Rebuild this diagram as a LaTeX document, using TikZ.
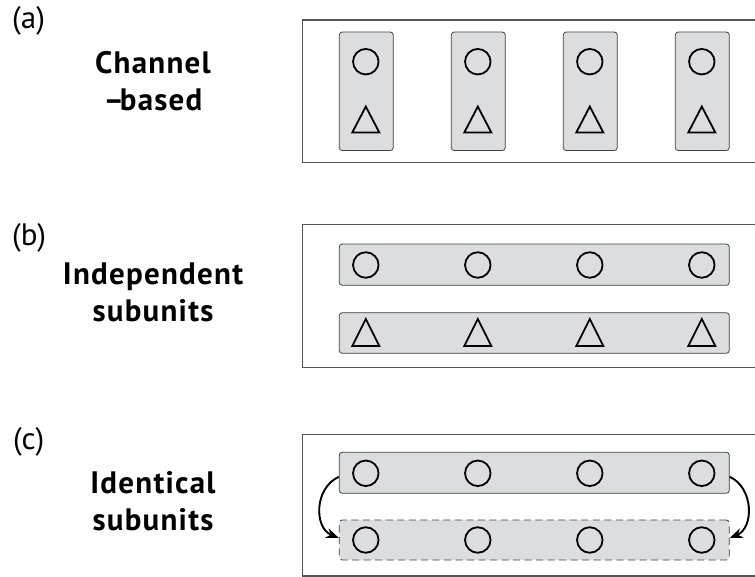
\documentclass[tikz,border=0pt]{standalone}
\usepackage{fontspec}
\newfontfamily\labfont{PT Sans}
\newfontfamily\titlefont[LetterSpace=4]{PT Sans}
\usetikzlibrary{arrows.meta}
\definecolor{boxfill}{HTML}{DCDDDF}
\definecolor{framegray}{HTML}{555555}
\begin{document}
\begin{tikzpicture}[x=1pt,y=-1pt,
  frame/.style={draw=framegray,line width=1.3pt,rectangle,inner sep=0pt},
  unit/.style={draw=black!75,line width=0.8pt,fill=boxfill,rounded corners=3pt,inner sep=0pt},
  ghost/.style={unit,dashed,dash pattern=on 7pt off 4.5pt},
  ring/.style={circle,draw=black,line width=1.8pt,minimum size=25.5pt,inner sep=0pt},
  tri/.style={draw=black,line width=1.8pt,line join=miter},
  title/.style={font=\titlefont\bfseries\fontsize{31}{37}\selectfont,align=center},
  tag/.style={font=\labfont\fontsize{31}{32}\selectfont,anchor=west,inner sep=0pt},
  flip/.style={-{Stealth[length=13pt,width=10pt]},line width=1.9pt}
]
\useasboundingbox (0,0) rectangle (755,577);
\begin{scope}
\clip (0,0) rectangle (755,577);
% labels
\node[tag] (ta) at (12,21) {(a)};
\node[tag] (tb) at (12,238) {(b)};
\node[tag] (tc) at (13,442) {(c)};
\node[title] (la) at (153,81) {Channel\\–\kern-4pt based};
\node[title] (lb) at (153,292) {Independent\\subunits};
\node[title] (lc) at (153,501) {Identical\\subunits};
% frames
\node[frame,minimum width=460pt,minimum height=142.5pt] (fa) at (532.7,91.3) {};
\node[frame,minimum width=460pt,minimum height=143pt] (fb) at (532.7,295.8) {};
\node[frame,minimum width=460pt,minimum height=141.7pt] (fc) at (532.7,505.2) {};
% (a)
\foreach \i/\x in {1/366.3,2/478.3,3/590.3,4/702.3}{
  \node[unit,minimum width=54pt,minimum height=118.5pt] (a\i) at (\x,91.3) {};
  \node[ring] (ac\i) at (\x-0.5,61.7) {};
  \draw[tri] (\x-14,132.5) -- (\x-0.5,106.5) -- (\x+13,132.5) -- cycle;
}
% (b)
\node[unit,minimum width=390pt,minimum height=41.3pt] (b1) at (534.3,264.7) {};
\node[unit,minimum width=390pt,minimum height=40.6pt] (b2) at (534.3,333) {};
\foreach \i/\x in {1/365.8,2/477.8,3/589.8,4/701.8}{
  \node[ring] (bc\i) at (\x,265) {};
  \draw[tri] (\x-13.5,346) -- (\x,319) -- (\x+13.5,346) -- cycle;
}
% (c)
\node[unit,minimum width=390pt,minimum height=41pt] (c1) at (534.3,472.8) {};
\node[ghost,minimum width=390pt,minimum height=40pt] (c2) at (534.3,540) {};
\foreach \i/\x in {1/365.8,2/477.8,3/589.8,4/701.8}{
  \node[ring] (cc\i) at (\x,473.3) {};
  \node[ring] (cd\i) at (\x,540) {};
}
\draw[flip] ([yshift=-4pt]c1.west) .. controls (314,488) and (314,528) .. ([yshift=2pt]c2.west);
\draw[flip] ([yshift=-4pt]c1.east) .. controls (754,488) and (754,528) .. ([yshift=2pt]c2.east);
\end{scope}
\end{tikzpicture}
\end{document}
